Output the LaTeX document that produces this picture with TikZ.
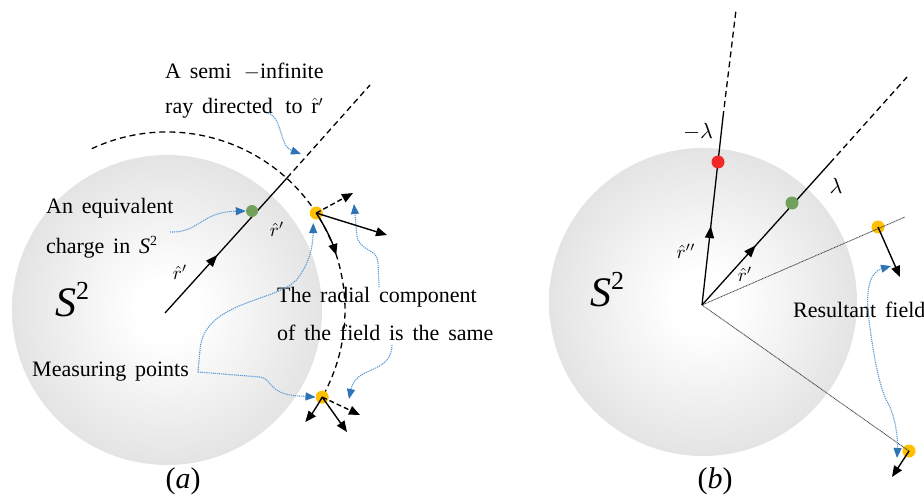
\documentclass[tikz,border=0pt]{standalone}
\usepackage{fontspec}
\usepackage{graphicx}
\setmainfont{Liberation Serif}
\usetikzlibrary{arrows.meta,decorations.markings,calc}
\pgfdeclareradialshading{sphereshade}{\pgfpoint{0bp}{0bp}}{color(0bp)=(white); color(5bp)=(white); color(50bp)=(black!24)}
\definecolor{conblue}{RGB}{91,155,213}
\definecolor{tipblue}{RGB}{46,117,182}
\definecolor{ptyellow}{RGB}{255,192,0}
\definecolor{ptgreen}{RGB}{112,160,90}
\definecolor{ptred}{RGB}{240,40,40}
\newcommand{\bigS}{{\itshape S}\raisebox{17pt}{\fontsize{26}{28}\selectfont 2}}
\newcommand{\smallS}{{\itshape S}\raisebox{8pt}{\fontsize{14}{16}\selectfont 2}}
\newcommand{\txtfont}{\fontsize{22}{26}\selectfont\spaceskip=0.4em\relax}
\newcommand{\rlab}[1]{\scalebox{1.9}{$\hat{r}#1$}}
\newcommand{\llab}[1]{\scalebox{2.2}{$#1\lambda$}}
\begin{document}
\begin{tikzpicture}[x=1pt,y=-1pt,
  txt/.style={font=\txtfont, inner sep=0pt, anchor=west},
  lbl/.style={inner sep=0pt},
  big/.style={font=\fontsize{42}{46}\selectfont, inner sep=0pt},
  subcap/.style={font=\fontsize{30}{32}\selectfont, inner sep=0pt},
  conn/.style={conblue, line width=1.1pt, dash pattern=on 1.2pt off 0.9pt, -{Triangle[length=10pt,width=8pt,color=tipblue]}},
  conntwo/.style={conblue, line width=1.1pt, dash pattern=on 1.2pt off 0.9pt, {Triangle[length=10pt,width=8pt,color=tipblue]}-{Triangle[length=10pt,width=8pt,color=tipblue]}},
  vec/.style={line width=1.4pt, -{Triangle[length=11pt,width=9pt]}},
  dvec/.style={line width=1.4pt, dash pattern=on 5pt off 3pt, -{Triangle[length=11pt,width=9pt]}},
  ray/.style={line width=1.3pt},
  dray/.style={line width=1.3pt, dash pattern=on 6pt off 4pt},
  guide/.style={line width=0.8pt, black!75, dash pattern=on 1pt off 0.6pt},
  pt/.style={circle, inner sep=0pt, minimum size=13pt},
  midarrow/.style={postaction={decorate}, decoration={markings, mark=at position #1 with {\arrow{Triangle[length=12pt,width=9pt]}}}}
]
\useasboundingbox (0,0) rectangle (924,500);

% ---------------- panel (a) ----------------
\coordinate (C1) at (167,310);
\shade[shading=sphereshade] (C1) circle[radius=155];
\coordinate (O1) at (165,313);
\coordinate (X1) at (287,178);
\coordinate (E1) at (370,85);
\draw[ray, midarrow=0.43] (O1) -- (X1);
\draw[dray] (X1) -- (E1);
\draw[dray] ($(C1)+(245:178)$) arc[start angle=245, end angle=391, radius=178];

\node[pt, fill=ptgreen, minimum size=12pt] (G1) at (252,211) {};
\node[pt, fill=ptyellow] (Y1) at ($(C1)+(327:178)$) {};
\node[pt, fill=ptyellow] (Y2) at ($(C1)+(29.3:178)$) {};

\node[big] (S1) at (72,300) {\bigS};
\node[lbl] (l1) at (180,272) {\rlab{'}};
\node[lbl] (l2) at (277,229) {\rlab{'}};
\node[txt] (t1) at (165,72) {A semi \,$-$infinite};
\node[txt] (t2) at (165,108) {ray directed\, to $\hat{\mathrm{r}}'$};
\node[txt] (t3) at (46,208) {An equivalent};
\node[txt] (t4) at (46,247) {charge in \smallS};
\node[txt] (t5) at (32,372) {Measuring points};
\node[txt] (t6) at (277,297) {The radial component};
\node[txt] (t7) at (277,333) {of the field is the same};
\node[subcap] (la) at (183,481) {(\textit{a})};

% blue connectors (a)
\coordinate (s1) at (268,113);
\coordinate (e1) at (301,154);
\draw[conn] (s1) .. controls (283,118) and (279,146) .. (e1);
\coordinate (s2) at (170,232);
\draw[conn] (s2) .. controls (200,233) and (200,212) .. (G1.west);
\coordinate (s3) at (198,372);
\coordinate (e3) at ($(Y1)+(-3,10)$);
\draw[conn] (s3) -- (200,350) .. controls (203,300) and (280,302) .. (298,278) .. controls (310,262) and (313,245) .. (e3);
\draw[conn] (s3) -- (260,377) .. controls (272,378) and (268,395) .. (300,396) -- (Y2.west);
\coordinate (s4) at (379,287);
\coordinate (e4) at (354,204);
\draw[conn] (s4) -- (378,262) .. controls (377,248) and (360,252) .. (357,236) -- (e4);
\coordinate (s5) at (392,345);
\coordinate (e5) at (349,399);
\draw[conn] (s5) .. controls (391,375) and (356,365) .. (e5);

% field vectors (a)
\coordinate (R1) at (353,193);
\coordinate (F1) at (387,235);
\coordinate (R2) at (360,415);
\coordinate (F2) at (347,432);
\draw[vec] (Y1.center) arc[start angle=327, end angle=342, radius=178];
\draw[dvec] (Y1.center) -- (R1);
\draw[vec] (Y1.center) -- (F1);
\draw[vec] (Y2.center) arc[start angle=29.3, end angle=39, radius=178];
\draw[dvec] (Y2.center) -- (R2);
\draw[vec] (Y2.center) -- (F2);

% ---------------- panel (b) ----------------
\coordinate (C2) at (703,302);
\shade[shading=sphereshade] (C2) circle[radius=154];
\coordinate (O2) at (702,305);
\coordinate (Q1) at (723,117);
\coordinate (Q1e) at (736,10);
\coordinate (Q2) at (830,163);
\coordinate (Q2e) at (907,77);
\coordinate (P1e) at (905,217);
\node[pt, fill=ptyellow] (Y3) at (878,227) {};
\node[pt, fill=ptyellow] (Y4) at (909,451) {};
\draw[guide] (O2) -- (P1e);
\draw[guide] (O2) -- (Y4.center);
\draw[ray, midarrow=0.42] (O2) -- (Q1);
\draw[dray] (Q1) -- (Q1e);
\draw[ray, midarrow=0.42] (O2) -- (Q2);
\draw[dray] (Q2) -- (Q2e);
\node[pt, fill=ptred] (Rd) at (718,162) {};
\node[pt, fill=ptgreen] (G2) at (792,203) {};

\node[big] (S2) at (607,290) {\bigS};
\node[lbl] (l3) at (686,251) {\rlab{''}};
\node[lbl] (l4) at (745,274) {\rlab{'}};
\node[lbl] (lm) at (698,132) {\llab{-}};
\node[lbl] (lp) at (836,186) {\llab{}};
\node[txt] (t8) at (793,310) {Resultant field};
\node[subcap] (lb) at (715,481) {(\textit{b})};

\coordinate (a1) at (891,266);
\coordinate (a2) at (897,458);
\draw[conntwo] (a1) .. controls (870,272) and (865,290) .. (869,320) .. controls (874,360) and (880,390) .. (889,405) .. controls (896,420) and (898,440) .. (a2);

\coordinate (F3) at (900,277);
\coordinate (F4) at (892,477);
\draw[vec] (Y3.center) -- (F3);
\draw[vec] (Y4.center) -- (F4);
\end{tikzpicture}
\end{document}
